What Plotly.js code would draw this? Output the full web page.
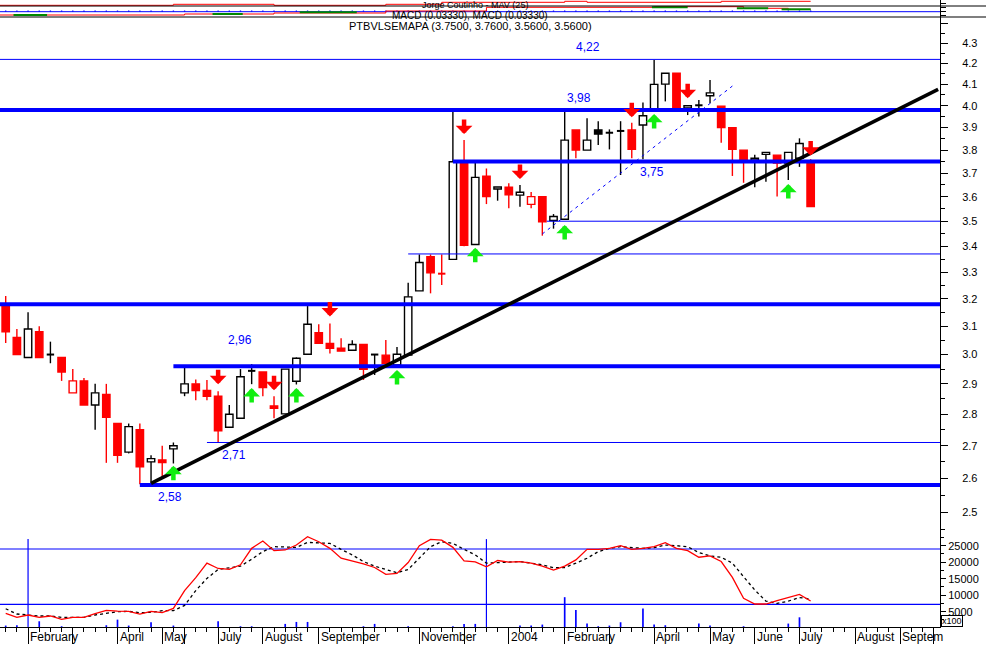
<!DOCTYPE html>
<html><head><meta charset="utf-8">
<script src="https://cdn.plot.ly/plotly-3.0.1.min.js"></script>
<style>html,body{margin:0;padding:0;background:#fff}#chart{width:986px;height:645px}</style>
</head><body><div id="chart"></div>
<script>
// ---------- DATA ----------
const weekIdx = [0,1,2,3,4,5,6,7,8,9,10,11,12,13,14,15,16,17,18,19,20,21,22,23,24,25,26,27,28,29,30,31,32,33,34,35,36,37,38,39,40,41,42,43,44,45,46,47,48,49,50,51,52,53,54,55,56,57,58,59,60,61,62,63,64,65,66,67,68,69,70,71,72];
const openP  = [3.18,3.06,2.99,3.08,3.00,2.99,2.87,2.91,2.83,2.865,2.77,2.68,2.75,2.65,2.656,2.69,2.87,2.90,2.878,2.859,2.758,2.787,2.944,2.94,2.827,2.801,2.909,3.001,3.077,3.039,3.022,3.015,3.035,3.00,2.998,2.964,2.998,3.229,3.359,3.296,3.349,3.749,3.407,3.687,3.633,3.640,3.607,3.569,3.601,3.503,3.508,3.889,3.800,3.889,3.877,3.885,3.889,3.912,3.983,4.101,4.153,3.990,4.002,4.046,3.998,3.900,3.800,3.757,3.781,3.778,3.743,3.764,3.75];
const highP  = [3.21,3.09,3.15,3.10,3.045,2.99,2.95,2.92,2.90,2.90,2.77,2.77,2.77,2.67,2.70,2.71,2.96,2.915,2.913,2.875,2.83,2.95,2.967,2.94,2.859,2.95,2.99,3.173,3.107,3.110,3.057,3.05,3.035,3.00,3.051,3.026,3.26,3.368,3.368,3.368,3.972,3.844,3.749,3.72,3.641,3.657,3.650,3.620,3.601,3.529,3.972,3.889,3.942,3.929,3.892,3.929,3.922,4.015,4.217,4.153,4.153,4.0,4.026,4.121,3.998,3.900,3.800,3.779,3.79,3.778,3.79,3.852,3.76];
const lowP   = [3.04,3.00,2.99,2.99,2.97,2.91,2.87,2.83,2.75,2.647,2.647,2.676,2.582,2.582,2.605,2.645,2.859,2.846,2.846,2.709,2.758,2.787,2.899,2.859,2.787,2.801,2.898,3.00,3.039,3.004,3.012,3.015,2.913,2.93,2.97,2.964,2.998,3.229,3.22,3.251,3.349,3.40,3.407,3.57,3.584,3.553,3.559,3.553,3.442,3.47,3.508,3.764,3.800,3.822,3.803,3.692,3.764,3.760,3.983,4.020,3.983,3.957,3.950,4.011,3.832,3.688,3.659,3.640,3.663,3.601,3.671,3.727,3.56];
const closeP = [3.08,3.00,3.09,2.99,3.00,2.94,2.91,2.83,2.87,2.79,2.67,2.76,2.635,2.66,2.648,2.70,2.90,2.878,2.859,2.747,2.80,2.924,2.944,2.888,2.819,2.95,2.987,3.107,3.039,3.022,3.012,3.035,2.949,3.00,2.97,3.001,3.207,3.337,3.297,3.294,3.749,3.404,3.682,3.601,3.641,3.608,3.619,3.601,3.498,3.519,3.844,3.800,3.844,3.871,3.877,3.885,3.803,3.954,4.100,4.153,3.983,4.0,4.002,4.060,3.900,3.803,3.757,3.764,3.790,3.743,3.790,3.829,3.56];

// volume (x100) and its two moving averages
const volume     = [800,900,0,2100,300,600,0,300,300,900,2600,800,0,1800,300,800,0,300,0,2100,300,600,600,300,0,1300,1900,1900,0,0,0,0,600,1300,0,0,600,0,0,0,600,1300,1300,0,0,300,800,800,1100,0,9400,5500,1400,600,800,1800,300,6000,1100,900,0,0,1400,800,300,0,600,300,0,300,1400,3300,300];
const volAvgFast = [4500,3300,4000,3300,3700,2700,3300,3300,4400,5400,5200,5100,4300,5100,4700,6000,11400,15300,19700,18100,17800,19200,24200,26400,23500,23700,25200,27700,26200,24200,21200,20400,19500,18400,16300,16600,19900,25000,26900,26700,24500,20400,20100,18600,20500,20000,20200,19700,18800,17600,18800,20700,23900,23900,24200,25000,23900,24200,24700,25900,24200,23500,21500,21900,20200,15400,9050,7330,7330,8340,9350,10260,8240];
const volAvgSlow = [5900,4300,4000,3700,3700,3300,3300,3300,4000,4500,5000,5100,4700,4800,5300,5300,6900,11400,15100,17800,18300,18800,20900,23200,24700,24700,24500,26000,25900,25700,23900,22200,20200,18800,17800,16800,17800,21100,24700,26200,25700,23900,22200,19700,19900,19900,20200,19700,19200,18300,18400,19700,21200,23200,24200,24700,24400,24200,24400,25200,25000,24700,22900,21900,21500,19700,15600,11600,8200,7500,8200,9300,8800];
const volLevels = [24000, 7200];
const volMarkWeeks = [2, 43];
const volMarkTop = 27000;

// support / resistance levels
const levelPrices   = [4.22, 3.98, 3.75, 3.50, 3.37, 3.18, 2.96, 2.71, 2.58];
const levelFromWeek = [-1, -1, 40, 48.4, 36, -1, 15, 18, 12];
const levelHeavy    = [false, true, true, false, false, true, true, false, true];
const levelLabels   = ['4,22','3,98','3,75','','','','2,96','2,71','2,58'];

// trend lines
const trendWeeks = [13, 83.4];
const trendPrices = [2.585, 4.076];
const channelWeeks = [48, 65];
const channelPrices = [3.449, 4.092];

// signals
const sellWeeks = [19, 24, 29, 41, 46, 56, 61, 72];
const sellTips  = [2.899, 2.879, 3.135, 3.871, 3.675, 3.947, 4.035, 3.776];
const buyWeeks  = [15, 22, 26, 35, 42, 50, 58, 70];
const buyTips   = [2.638, 2.886, 2.886, 2.947, 3.394, 3.485, 3.962, 3.654];

// x axis months
const monthTickWeeks = [2,6,10,14,16,19,23,28,32,37,41,45,50,54,58,63,67,71,76,80,83];
const monthLabelWeeks = [2,10,14,19,23,28,37,45,50,58,63,67,71,76,80];
const monthLabels = ['February','April','May','July','August','September','November','2004','February','April','May','June','July','August','Septem'];

// price axis ticks
const priceTicks = [2.5,2.6,2.7,2.8,2.9,3.0,3.1,3.2,3.3,3.4,3.5,3.6,3.7,3.8,3.9,4.0,4.1,4.2,4.3,4.4];
const priceTickText = ['2.5','2.6','2.7','2.8','2.9','3.0','3.1','3.2','3.3','3.4','3.5','3.6','3.7','3.8','3.9','4.0','4.1','4.2','4.3',''];
const priceMinor = [2.45,2.55,2.65,2.75,2.85,2.95,3.05,3.15,3.25,3.35,3.45,3.55,3.65,3.75,3.85,3.95,4.05,4.15,4.25,4.35];
const volTicks = [5000,10000,15000,20000,25000];
const volTickText = ['5000','10000','15000','20000','25000'];
const volMinor = [2500,7500,12500,17500,22500,27500];

// squeezed MACD strip at the top
const macdStepWeeks = [-1,15,24,34,39,50,52,64,72];
const macdStepVals  = [11.7,12.7,11.7,12.7,14.7,15.7,14.7,15.7,15.7];
const sigStepWeeks  = [-1,16,24,34,43,58,66,70,72];
const sigStepVals   = [2,3,4,6,9.7,10.3,8.7,7.7,7.7];
const histBase = 5.3;
const histVals = [1.2,1.2,1.2,1.2,1.2,1.2,1.2,1.2,1.2,1.2,1.2,1.2,1.2,1.2,1.2,1.2,1.2,1.2,1.2,1.2,1.2,1.2,1.2,1.2,1.2,1.2,1.2,1.2,1.2,1.2,1.2,1.2,1.2,1.2,1.2,1.2,1.2,1.2,1.2,1.2,1.2,1.2,1.2,1.2,1.2,1.2,1.2,1.2,1.2,1.2,1.2,1.2,1.2,1.2,1.2,1.2,1.2,1.2,1.2,1.2,1.2,1.2,1.2,1.2,1.2,1.2,1.2,1.2,1.2,1.2,1.2,1.2,1.2];
const greenSegStart = [0.7, 18.5, 26.3, 57.8, 65.4, 69.4];
const greenSegEnd   = [3.7, 21.2, 31.4, 61.0, 68.2, 72.0];
const greenSegVal   = [2, 3, 4.7, 9.7, 8.7, 7.7];

// ---------- STYLE ----------
const RED = '#ff0000', BLUE = '#0000ff', GREEN = '#11ee11', FONT = 'Liberation Sans, Arial, sans-serif';

// ---------- BUILD CANDLES ----------
const groups = {bh:{x:[],b:[],h:[]}, bf:{x:[],b:[],h:[]}, rh:{x:[],b:[],h:[]}, rf:{x:[],b:[],h:[]}};
const wick = {black:{x:[],y:[]}, red:{x:[],y:[]}};
const doji = {black:{x:[],y:[]}, red:{x:[],y:[]}};
for (let k = 0; k < weekIdx.length; k++) {
  const o = openP[k], c = closeP[k], h = highP[k], l = lowP[k], w = weekIdx[k];
  const prev = k > 0 ? closeP[k-1] : o;
  const isRed = c < prev;
  const col = isRed ? 'red' : 'black';
  const top = Math.max(o, c), bot = Math.min(o, c);
  if (top - bot < 0.004) {
    wick[col].x.push(w, w, null); wick[col].y.push(l, h, null);
    doji[col].x.push(w - 0.33, w + 0.33, null); doji[col].y.push(c, c, null);
  } else {
    if (h > top) { wick[col].x.push(w, w, null); wick[col].y.push(top, h, null); }
    if (l < bot) { wick[col].x.push(w, w, null); wick[col].y.push(l, bot, null); }
    const key = (isRed ? 'r' : 'b') + (c < o ? 'f' : 'h');
    groups[key].x.push(w); groups[key].b.push(bot); groups[key].h.push(top - bot);
  }
}
const bodyStyle = {bh:['#ffffff','#000000'], bf:['#000000','#000000'], rh:['#ffffff',RED], rf:[RED,RED]};

const traces = [];
// top strip
traces.push({type:'bar', x:weekIdx, y:histVals, base:histBase, width:0.12, marker:{color:BLUE, line:{width:0}}, xaxis:'x', yaxis:'y3', hoverinfo:'skip'});
traces.push({type:'scatter', mode:'lines', x:[-1,84], y:[histBase,histBase], line:{color:BLUE, width:1}, xaxis:'x', yaxis:'y3', hoverinfo:'skip'});
traces.push({type:'scatter', mode:'lines', x:macdStepWeeks, y:macdStepVals, line:{color:RED, width:1, shape:'hv'}, xaxis:'x', yaxis:'y3', hoverinfo:'skip'});
traces.push({type:'scatter', mode:'lines', x:sigStepWeeks, y:sigStepVals, line:{color:RED, width:1, shape:'hv'}, xaxis:'x', yaxis:'y3', hoverinfo:'skip'});
{
  const gx = [], gy = [];
  for (let k = 0; k < greenSegStart.length; k++) { gx.push(greenSegStart[k], greenSegEnd[k], null); gy.push(greenSegVal[k], greenSegVal[k], null); }
  traces.push({type:'scatter', mode:'lines', x:gx, y:gy, line:{color:'#008800', width:2}, xaxis:'x', yaxis:'y3', hoverinfo:'skip'});
}

// candle bodies
for (const key of ['bh','bf','rh','rf']) {
  const g = groups[key];
  traces.push({type:'bar', x:g.x, y:g.h, base:g.b, width:0.66,
    marker:{color:bodyStyle[key][0], line:{color:bodyStyle[key][1], width:1.4}},
    xaxis:'x', yaxis:'y', hoverinfo:'skip'});
}
// wicks + dojis
traces.push({type:'scatter', mode:'lines', x:wick.black.x, y:wick.black.y, line:{color:'#000', width:1.4}, xaxis:'x', yaxis:'y', hoverinfo:'skip'});
traces.push({type:'scatter', mode:'lines', x:wick.red.x, y:wick.red.y, line:{color:RED, width:1.4}, xaxis:'x', yaxis:'y', hoverinfo:'skip'});
traces.push({type:'scatter', mode:'lines', x:doji.black.x, y:doji.black.y, line:{color:'#000', width:2}, xaxis:'x', yaxis:'y', hoverinfo:'skip'});
traces.push({type:'scatter', mode:'lines', x:doji.red.x, y:doji.red.y, line:{color:RED, width:2}, xaxis:'x', yaxis:'y', hoverinfo:'skip'});

// levels
for (let k = 0; k < levelPrices.length; k++) {
  traces.push({type:'scatter', mode:'lines', x:[levelFromWeek[k], 84], y:[levelPrices[k], levelPrices[k]],
    line:{color:BLUE, width: levelHeavy[k] ? 4 : 1}, xaxis:'x', yaxis:'y', hoverinfo:'skip'});
}
// trend lines
traces.push({type:'scatter', mode:'lines', x:channelWeeks, y:channelPrices, line:{color:BLUE, width:1, dash:'3px,4px'}, xaxis:'x', yaxis:'y', hoverinfo:'skip'});
traces.push({type:'scatter', mode:'lines', x:trendWeeks, y:trendPrices, line:{color:'#000', width:3.6}, xaxis:'x', yaxis:'y', hoverinfo:'skip'});

// lower panel
traces.push({type:'bar', x:weekIdx, y:volume, width:0.15, marker:{color:BLUE, line:{width:0}}, xaxis:'x', yaxis:'y2', hoverinfo:'skip'});
for (const lv of volLevels) {
  traces.push({type:'scatter', mode:'lines', x:[-1,84], y:[lv,lv], line:{color:BLUE, width:1.2}, xaxis:'x', yaxis:'y2', hoverinfo:'skip'});
}
{
  const vx = [], vy = [];
  for (const w of volMarkWeeks) { vx.push(w, w, null); vy.push(0, volMarkTop, null); }
  traces.push({type:'scatter', mode:'lines', x:vx, y:vy, line:{color:BLUE, width:1.2}, xaxis:'x', yaxis:'y2', hoverinfo:'skip'});
}
traces.push({type:'scatter', mode:'lines', x:weekIdx, y:volAvgSlow, line:{color:'#000', width:1.3, dash:'3px,3px'}, xaxis:'x', yaxis:'y2', hoverinfo:'skip'});
traces.push({type:'scatter', mode:'lines', x:weekIdx, y:volAvgFast, line:{color:RED, width:1.3}, xaxis:'x', yaxis:'y2', hoverinfo:'skip'});

// ---------- ANNOTATIONS ----------
const annotations = [];
const lastK = weekIdx.length - 1;
annotations.push({xref:'paper', yref:'paper', x:0.5, y:(627-26)/627, xanchor:'center', yanchor:'middle', showarrow:false,
  text:'PTBVLSEMAPA (' + [openP[lastK], highP[lastK], lowP[lastK], closeP[lastK]].map(v => v.toFixed(4)).join(', ') + ')',
  font:{family:FONT, size:11, color:'#000'}});
annotations.push({xref:'paper', yref:'paper', x:0.5, y:(627-16)/627, xanchor:'center', yanchor:'middle', showarrow:false,
  text:'MACD (0.03330), MACD (0.03330)', font:{family:FONT, size:10, color:'#000'}});
annotations.push({xref:'paper', yref:'paper', x:0.505, y:(627-5)/627, xanchor:'center', yanchor:'middle', showarrow:false,
  text:'Jorge Coutinho - MAV (25)', font:{family:FONT, size:9, color:'#000'}});

// level labels (placement)
const labelPlace = {'4,22':[52.1, 12.5], '3,98':[51.3, 12], '3,75':[57.85, -10], '2,96':[20.96, 26], '2,71':[20.4, -12.5], '2,58':[14.7, -11.5]};
for (let k = 0; k < levelPrices.length; k++) {
  const t = levelLabels[k];
  if (!t) continue;
  const pl = labelPlace[t];
  annotations.push({xref:'x', yref:'y', x:pl[0], y:Math.log10(levelPrices[k]), yshift:pl[1], showarrow:false,
    text:t, font:{family:FONT, size:12, color:BLUE}});
}
// signal arrows
for (let k = 0; k < sellWeeks.length; k++) {
  annotations.push({xref:'x', yref:'y', x:sellWeeks[k], y:Math.log10(sellTips[k]), ax:0, ay:-16, text:'', showarrow:true,
    arrowhead:1, arrowsize:0.62, arrowwidth:4.5, arrowcolor:RED, standoff:0});
}
for (let k = 0; k < buyWeeks.length; k++) {
  annotations.push({xref:'x', yref:'y', x:buyWeeks[k], y:Math.log10(buyTips[k]), ax:0, ay:16, text:'', showarrow:true,
    arrowhead:1, arrowsize:0.62, arrowwidth:4.5, arrowcolor:GREEN, standoff:0});
}
// month labels
for (let k = 0; k < monthLabelWeeks.length; k++) {
  annotations.push({xref:'x', yref:'paper', x:monthLabelWeeks[k], y:0, xanchor:'left', yanchor:'top', xshift:0, yshift:-1,
    showarrow:false, text:monthLabels[k], font:{family:FONT, size:12, color:'#000'}});
}
annotations.push({xref:'paper', yref:'paper', x:1.0, y:(627-621)/627, xanchor:'left', yanchor:'middle', xshift:1, showarrow:false,
  text:'x100', bordercolor:'#000', borderwidth:1, borderpad:0, font:{family:FONT, size:9, color:'#000'}});

const axisCommon = {showgrid:false, zeroline:false, showline:true, linecolor:'#000', linewidth:1, fixedrange:true};
const layout = {
  width:986, height:645,
  margin:{l:0, r:46, t:0, b:18, pad:0},
  paper_bgcolor:'#ffffff', plot_bgcolor:'#ffffff',
  showlegend:false, barmode:'overlay',
  font:{family:FONT, size:11, color:'#000'},
  xaxis:Object.assign({}, axisCommon, {range:[-0.51, 83.57], anchor:'y2',
    tickmode:'array', tickvals:monthTickWeeks, ticks:'outside', ticklen:16, tickwidth:1, tickcolor:'#000', showticklabels:false,
    minor:{tickmode:'linear', tick0:0, dtick:1, ticks:'outside', ticklen:4, tickcolor:'#000'}}),
  yaxis:Object.assign({}, axisCommon, {domain:[(627-530)/627, (627-17)/627], type:'log', range:[0.38903, 0.64660], side:'right', anchor:'x',
    tickmode:'array', tickvals:priceTicks, ticktext:priceTickText, ticks:'outside', ticklen:7, tickcolor:'#000', ticklabelstandoff:12,
    tickfont:{family:FONT, size:11},
    minor:{tickmode:'array', tickvals:priceMinor, ticks:'outside', ticklen:4, tickcolor:'#000'}}),
  yaxis2:Object.assign({}, axisCommon, {domain:[0, (627-530)/627], range:[364, 29755], side:'right', anchor:'x',
    tickmode:'array', tickvals:volTicks, ticktext:volTickText, ticks:'outside', ticklen:5, tickcolor:'#000', ticklabelstandoff:0,
    tickfont:{family:FONT, size:11},
    minor:{tickmode:'array', tickvals:volMinor, ticks:'outside', ticklen:3, tickcolor:'#000'}}),
  yaxis3:Object.assign({}, axisCommon, {domain:[(627-17)/627, 1], range:[0, 17], side:'right', anchor:'x',
    tickmode:'array', tickvals:[2,6,10,14], ticks:'outside', ticklen:5, tickcolor:'#000', showticklabels:false}),
  shapes:[
    {type:'line', xref:'paper', yref:'paper', x0:0, x1:986/940, y0:(627-6)/627, y1:(627-6)/627, line:{color:'#000', width:1}},
    {type:'line', xref:'paper', yref:'paper', x0:0, x1:986/940, y0:(627-17)/627, y1:(627-17)/627, line:{color:'#000', width:1.2}}
  ],
  annotations:annotations
};
Plotly.newPlot('chart', traces, layout, {staticPlot:true, displayModeBar:false});
</script></body></html>
